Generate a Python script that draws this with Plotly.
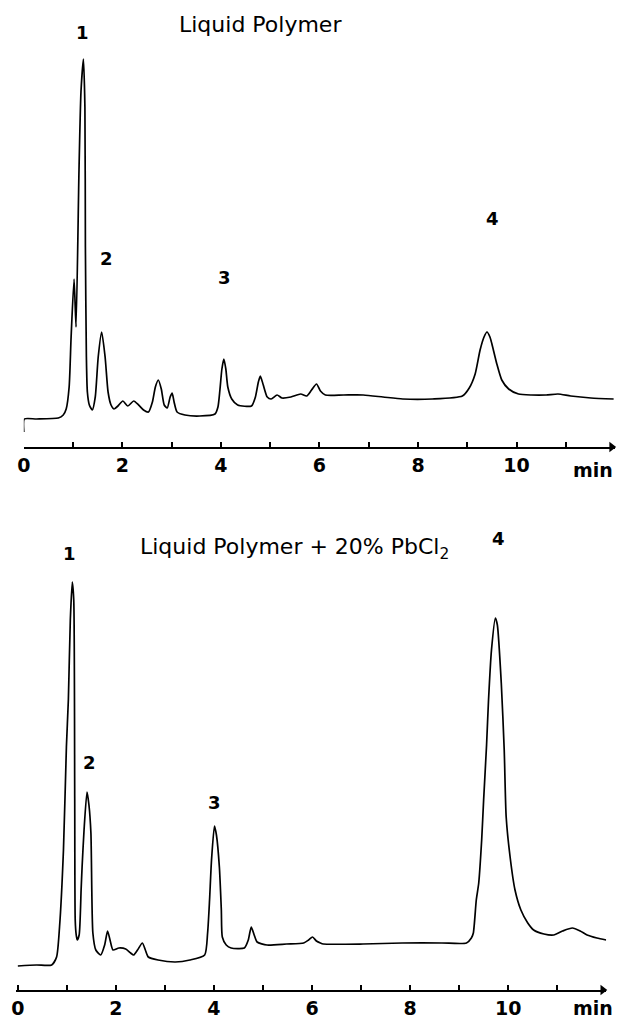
import plotly.graph_objects as go

# ---- Top chromatogram: Liquid Polymer (time in min, response in arb. units)
top_time = [0.0, 0.01, 0.26, 0.70, 0.80, 0.86, 0.92, 0.96, 1.02, 1.06, 1.12, 1.16, 1.21, 1.24, 1.25, 1.27,
            1.29, 1.33, 1.39, 1.45, 1.51, 1.58, 1.65, 1.71, 1.77, 1.83, 1.91, 2.01, 2.11, 2.23, 2.33, 2.43,
            2.53, 2.61, 2.67, 2.73, 2.79, 2.85, 2.91, 2.97, 3.01, 3.05, 3.11, 3.27, 3.57, 3.88, 3.94, 3.98,
            4.02, 4.06, 4.10, 4.14, 4.22, 4.34, 4.62, 4.70, 4.76, 4.80, 4.86, 4.94, 5.02, 5.14, 5.24, 5.42,
            5.62, 5.74, 5.84, 5.94, 6.02, 6.12, 6.49, 6.89, 7.29, 7.69, 8.29, 8.90, 9.04, 9.16, 9.26, 9.34,
            9.40, 9.46, 9.50, 9.60, 9.70, 9.84, 10.04, 10.30, 10.60, 10.84, 11.10, 11.51, 11.97]
top_signal = [15, 28, 28, 29, 32, 38, 60, 110, 168, 120, 277, 355, 388, 340, 200, 90,
              55, 42, 37, 50, 90, 115, 90, 55, 42, 38, 41, 46, 41, 46, 42, 37,
              35, 45, 60, 67, 58, 42, 39, 50, 54, 45, 35, 32, 31, 33, 40, 57,
              78, 88, 78, 60, 48, 42, 41, 50, 65, 71, 62, 50, 48, 52, 49, 50,
              53, 51, 57, 63, 56, 52, 52, 52, 50, 48, 48, 51, 59, 73, 97, 110,
              115, 110, 103, 83, 67, 58, 53, 52, 52, 53, 51, 49, 48]

# ---- Bottom chromatogram: Liquid Polymer + 20% PbCl2
bot_time = [0.0, 0.38, 0.69, 0.79, 0.85, 0.93, 0.99, 1.03, 1.07, 1.11, 1.14, 1.16, 1.17, 1.19, 1.21, 1.25,
            1.29, 1.31, 1.35, 1.41, 1.45, 1.49, 1.53, 1.59, 1.69, 1.77, 1.83, 1.88, 1.94, 2.06, 2.20, 2.30,
            2.36, 2.44, 2.54, 2.60, 2.66, 2.86, 3.21, 3.51, 3.81, 3.87, 3.91, 3.95, 4.01, 4.05, 4.11, 4.15,
            4.17, 4.25, 4.35, 4.62, 4.70, 4.76, 4.82, 4.88, 5.08, 5.48, 5.83, 5.93, 6.01, 6.09, 6.17, 6.23,
            7.04, 7.84, 8.65, 9.15, 9.25, 9.29, 9.35, 9.40, 9.46, 9.50, 9.56, 9.60, 9.66, 9.74, 9.78, 9.86,
            9.92, 9.96, 10.04, 10.14, 10.26, 10.40, 10.52, 10.73, 10.93, 11.11, 11.31, 11.47, 11.61, 11.81, 12.0]
bot_signal = [24, 25, 25, 33, 63, 140, 243, 290, 370, 408, 390, 190, 70, 55, 50, 55,
              100, 123, 160, 198, 185, 157, 57, 40, 35, 45, 59, 50, 40, 42, 41, 37,
              35, 40, 47, 40, 33, 30, 28, 30, 35, 57, 90, 130, 164, 155, 123, 80,
              53, 45, 42, 42, 50, 63, 55, 48, 45, 46, 47, 50, 53, 49, 47, 46,
              46, 47, 47, 47, 52, 57, 90, 107, 150, 190, 245, 290, 340, 372, 365, 307,
              240, 173, 133, 100, 80, 67, 60, 56, 55, 59, 62, 59, 55, 52, 50]

tick_values = [0, 2, 4, 6, 8, 10]
tick_labels = ["0", "2", "4", "6", "8", "10"]

top_peaks = ["1", "2", "3", "4"]
bot_peaks = ["1", "2", "3", "4"]

FONT = "DejaVu Sans"
fig = go.Figure()
fig.add_trace(go.Scatter(x=top_time, y=top_signal, mode="lines",
                         line=dict(color="black", width=1.7, shape="spline", smoothing=0.6),
                         xaxis="x", yaxis="y", hoverinfo="skip"))
fig.add_trace(go.Scatter(x=bot_time, y=bot_signal, mode="lines",
                         line=dict(color="black", width=1.7, shape="spline", smoothing=0.6),
                         xaxis="x2", yaxis="y2", hoverinfo="skip"))
# axis-end arrowheads
for xa, ya in [("x", "y"), ("x2", "y2")]:
    fig.add_trace(go.Scatter(x=[11.93], y=[0], mode="markers", cliponaxis=False,
                             marker=dict(symbol="triangle-right", size=9, color="black"),
                             xaxis=xa, yaxis=ya, hoverinfo="skip"))

H = 1019.0
W = 624.0
axis_common = dict(showline=True, linecolor="black", linewidth=2, ticks="inside", ticklen=5,
                   tickwidth=2, tickcolor="black", tickvals=tick_values, ticktext=tick_labels,
                   showgrid=False, zeroline=False,
                   minor=dict(tick0=0, dtick=1, ticks="inside", ticklen=5, tickwidth=2,
                              tickcolor="black", showgrid=False),
                   tickfont=dict(family=FONT, size=19, color="black", weight="bold"))
fig.update_layout(
    width=624, height=1019, margin=dict(l=0, r=0, t=0, b=0),
    paper_bgcolor="white", plot_bgcolor="white", showlegend=False,
    xaxis=dict(domain=[17 / W, 615 / W], range=[0, 12], anchor="y", **axis_common),
    yaxis=dict(domain=[1 - 447 / H, 1], range=[0, 447], visible=False),
    xaxis2=dict(domain=[9 / W, 606 / W], range=[-0.04, 12], anchor="y2", **axis_common),
    yaxis2=dict(domain=[1 - 990 / H, 1 - 500 / H], range=[0, 490], visible=False),
)

ann = []
ann.append(dict(text="Liquid Polymer", xref="paper", yref="paper", x=256 / W, y=1 - 25 / H,
                showarrow=False, xanchor="center", yanchor="middle",
                font=dict(family=FONT, size=22, color="black")))
ann.append(dict(text="Liquid Polymer + 20% PbCl<sub>2</sub>", xref="paper", yref="paper", x=291 / W,
                y=1 - 548 / H, showarrow=False, xanchor="center", yanchor="middle",
                font=dict(family=FONT, size=22, color="black")))
for lab, (xx, yy) in zip(top_peaks, [(1.20, 415), (1.67, 189), (4.08, 170), (9.52, 229)]):
    ann.append(dict(text=lab, x=xx, y=yy, xref="x", yref="y", showarrow=False,
                    font=dict(family=FONT, size=18, color="black", weight="bold")))
for lab, (xx, yy) in zip(bot_peaks, [(1.05, 437), (1.47, 228), (4.01, 188), (9.80, 452)]):
    ann.append(dict(text=lab, x=xx, y=yy, xref="x2", yref="y2", showarrow=False,
                    font=dict(family=FONT, size=18, color="black", weight="bold")))
ann.append(dict(text="min", xref="paper", yref="paper", x=593 / W, y=1 - 470 / H, showarrow=False,
                xanchor="center", yanchor="middle",
                font=dict(family=FONT, size=19, color="black", weight="bold")))
ann.append(dict(text="min", xref="paper", yref="paper", x=593 / W, y=1 - 1008 / H, showarrow=False,
                xanchor="center", yanchor="middle",
                font=dict(family=FONT, size=19, color="black", weight="bold")))
fig.update_layout(annotations=ann)

fig.write_html("out.html")
